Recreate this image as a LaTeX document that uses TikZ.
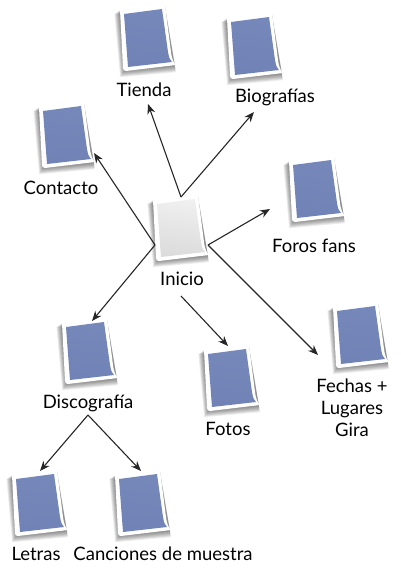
\documentclass[tikz,border=0pt]{standalone}
\usepackage{fontspec}
\setmainfont{Lato}
\usetikzlibrary{arrows.meta}

\definecolor{pageblue}{HTML}{7688BA}
\definecolor{pagedark}{HTML}{7183B6}

\tikzset{
  label text/.style={align=center, font=\fontsize{18.5}{22}\selectfont, text=black, inner sep=0pt},
  link/.style={-{Stealth[length=10pt,width=8pt]}, line width=1.1pt, black!85},
  pics/docpage/.style 2 args={code={
    % soft shadow, left and below
    \foreach \s in {8,7,...,1} {
      \fill [black, opacity=0.07] (-\s*0.7,\s*0.5) -- (45,-5+\s*0.5) -- (55+\s*0.1,55+\s*0.9)
        -- (5-\s*0.6,60+\s*0.9) -- cycle;
    }
    \fill [white] (0,0) -- (45,-5) -- (51,42) .. controls (52,50) and (54,53) .. (56,55)
      -- (6,61) .. controls (4,61) and (3,60) .. (3,58) -- cycle;
    \shade [top color=#1, bottom color=#2, shading angle=-8]
      (4,4) -- (42,-1) -- (48,42) .. controls (49,48) and (50,50) .. (52,52)
      -- (8,57) -- cycle;
  }}
}

\begin{document}
\begin{tikzpicture}[x=1pt,y=-1pt]
  \useasboundingbox (0,0) rectangle (400,569);

  %% Pages
  \pic at (120,10) {docpage={pageblue}{pagedark}};
  \pic at (227,18) {docpage={pageblue}{pagedark}};
  \pic at (39,107) {docpage={pageblue}{pagedark}};
  \pic at (289,161) {docpage={pageblue}{pagedark}};
  \pic at (333,307) {docpage={pageblue}{pagedark}};
  \pic at (204,350) {docpage={pageblue}{pagedark}};
  \pic at (62,323) {docpage={pageblue}{pagedark}};
  \pic at (12,475) {docpage={pageblue}{pagedark}};
  \pic at (115,475) {docpage={pageblue}{pagedark}};
  \pic at (153,200) {docpage={black!6}{black!14}};

  %% Labels
  \node [label text] (tienda) at (144,90) {Tienda};
  \node [label text] (biografias) at (275,97) {Biografías};
  \node [label text] (contacto) at (61,188) {Contacto};
  \node [label text] (foros) at (314,246) {Foros fans};
  \node [label text] (inicio) at (182,279) {Inicio};
  \node [label text] (discografia) at (88,403) {Discografía};
  \node [label text] (fotos) at (228,429) {Fotos};
  \node [label text] (fechas) at (352,408) {Fechas +\\Lugares\\Gira};
  \node [label text] (letras) at (36,554) {Letras};
  \node [label text] (canciones) at (163,554) {Canciones de muestra};

  %% Connector ends
  \coordinate (top) at (181,197);
  \coordinate (left) at (155,245);
  \coordinate (right) at (208,245);
  \coordinate (bottom) at (181,296);
  \coordinate (fork) at (88,415);
  \coordinate (to-tienda) at (148,104);
  \coordinate (to-biografias) at (254,112);
  \coordinate (to-contacto) at (94,153);
  \coordinate (to-foros) at (270,209);
  \coordinate (to-fechas) at (318,355);
  \coordinate (to-fotos) at (228,346);
  \coordinate (to-discografia) at (92,321);
  \coordinate (to-letras) at (40,471);
  \coordinate (to-canciones) at (141,471);

  %% Arrows
  \draw [link] (top) -- (to-tienda);
  \draw [link] (top) -- (to-biografias);
  \draw [link] (left) -- (to-contacto);
  \draw [link] (left) -- (to-discografia);
  \draw [link] (right) -- (to-foros);
  \draw [link] (right) -- (to-fechas);
  \draw [link] (bottom) -- (to-fotos);
  \draw [link] (fork) -- (to-letras);
  \draw [link] (fork) -- (to-canciones);
\end{tikzpicture}
\end{document}
